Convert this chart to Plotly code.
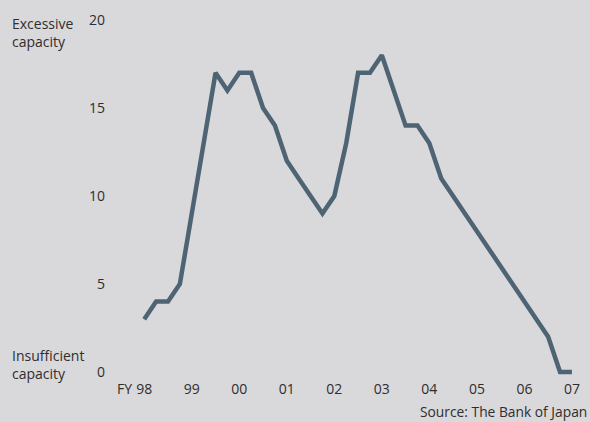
import plotly.graph_objects as go

# Capacity utilisation index (quarterly, FY1998 Q1 - FY2007 Q1)
start_year = 1998
values = [3, 4, 4, 5, 9, 13, 17, 16, 17, 17, 15, 14, 12, 11, 10, 9, 10, 13, 17, 17,
          18, 16, 14, 14, 13, 11, 10, 9, 8, 7, 6, 5, 4, 3, 2, 0, 0]
quarters = [start_year + i / 4 for i in range(len(values))]

year_ticks = [1998, 1999, 2000, 2001, 2002, 2003, 2004, 2005, 2006, 2007]
year_labels = ["98", "99", "00", "01", "02", "03", "04", "05", "06", "07"]
y_ticks = [0, 5, 10, 15, 20]

BG = "#d9d8db"
LINE = "#4e6474"
TXT = "#2e2e2e"
FONT = "Open Sans"

W, H = 590, 422
L, R, T, B = 120, 10, 10, 46
pw, ph = W - L - R, H - T - B

def px_x(px):
    return (px - L) / pw

def px_y(py):
    return (H - B - py) / ph

fig = go.Figure()
fig.add_trace(go.Scatter(x=quarters, y=values, mode="lines",
                         line=dict(color=LINE, width=4.5), hoverinfo="skip"))

fig.update_layout(
    width=W, height=H,
    margin=dict(l=L, r=R, t=T, b=B, pad=0),
    paper_bgcolor=BG, plot_bgcolor=BG,
    showlegend=False,
    font=dict(family=FONT, size=14, color=TXT),
    xaxis=dict(range=[1997.49, 2007.17], tickvals=year_ticks, ticktext=year_labels,
               showgrid=False, zeroline=False, showline=False, ticks="",
               ticklabelstandoff=3, tickfont=dict(size=14, color=TXT)),
    yaxis=dict(range=[-0.23, 20.57], tickvals=y_ticks,
               showgrid=False, zeroline=False, showline=False, ticks="",
               ticklabelstandoff=14, tickfont=dict(size=14, color=TXT)),
)

annos = [
    dict(text="Excessive<br>capacity", x=px_x(10), y=px_y(32.5), xanchor="left", yanchor="middle", align="left"),
    dict(text="Insufficient<br>capacity", x=px_x(10), y=px_y(364), xanchor="left", yanchor="middle", align="left"),
    dict(text="FY", x=px_x(124), y=px_y(388), xanchor="center", yanchor="middle"),
    dict(text="Source: The Bank of Japan", x=px_x(589), y=px_y(411), xanchor="right", yanchor="middle", font=dict(size=13.8)),
]
for a in annos:
    a.update(xref="paper", yref="paper", showarrow=False)
    a.setdefault("font", dict(size=14, color=TXT))
    a["font"].setdefault("color", TXT)
    a["font"].setdefault("family", FONT)
    fig.add_annotation(**a)

fig.write_html("out.html")
